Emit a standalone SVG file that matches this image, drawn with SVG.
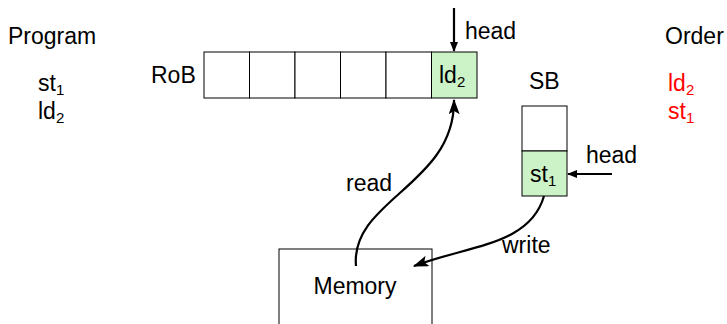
<svg xmlns="http://www.w3.org/2000/svg" width="727" height="324" viewBox="0 0 727 324">
<style>
text{font-family:"Liberation Sans",Arial,sans-serif;font-size:23px;fill:#000}
.sub{font-size:15px}
.red{fill:#ff0000}
.cell{fill:#fff;stroke:#000;stroke-width:1}
.hl{fill:#ccf2c8;stroke:#000;stroke-width:1}
.wire{fill:none;stroke:#000;stroke-width:2.2}
</style>
<defs>
<marker id="ah" viewBox="0 0 10 10" refX="9" refY="5" markerWidth="10" markerHeight="10" markerUnits="userSpaceOnUse" orient="auto">
<path d="M0,1 L10,5 L0,9 Z" fill="#000"/>
</marker>
<marker id="ahb" viewBox="0 0 14 10" refX="13" refY="5" markerWidth="16" markerHeight="11" markerUnits="userSpaceOnUse" orient="auto">
<path d="M0,0 L14,5 L0,10 L3,5 Z" fill="#000"/>
</marker>
</defs>
<g id="program">
<text x="8" y="44">Program</text>
<text x="38" y="91">st<tspan class="sub" dy="4">1</tspan></text>
<text x="38" y="119">ld<tspan class="sub" dy="4">2</tspan></text>
</g>
<g id="order">
<text x="665" y="44">Order</text>
<text x="668" y="91" class="red">ld<tspan class="sub red" dy="4">2</tspan></text>
<text x="668" y="119" class="red">st<tspan class="sub red" dy="4">1</tspan></text>
</g>
<g id="rob">
<text x="151" y="83">RoB</text>
<rect class="cell" x="204" y="52" width="45.5" height="46"/>
<rect class="cell" x="249.5" y="52" width="45.5" height="46"/>
<rect class="cell" x="295" y="52" width="45.5" height="46"/>
<rect class="cell" x="340.5" y="52" width="45.5" height="46"/>
<rect class="cell" x="386" y="52" width="45.5" height="46"/>
<rect class="hl" x="431.5" y="52" width="45.5" height="46"/>
<text x="439" y="83">ld<tspan class="sub" dy="4">2</tspan></text>
</g>
<g id="sb">
<text x="529" y="89">SB</text>
<rect class="cell" x="522" y="106" width="45" height="45"/>
<rect class="hl" x="522" y="151" width="45" height="45"/>
<text x="530" y="182">st<tspan class="sub" dy="4">1</tspan></text>
</g>
<g id="memory">
<rect class="cell" x="279" y="249" width="153" height="90"/>
<text x="355" y="294" text-anchor="middle">Memory</text>
</g>
<g id="connectors">
<line class="wire" x1="454" y1="8" x2="454" y2="51" stroke-width="2" marker-end="url(#ah)"/>
<text x="465" y="39">head</text>
<line class="wire" x1="612" y1="174" x2="568" y2="174" stroke-width="2" marker-end="url(#ah)"/>
<text x="586" y="163">head</text>
<path class="wire" d="M356,266 C350,200 455,185 454,100" marker-end="url(#ahb)"/>
<text x="346" y="191">read</text>
<path class="wire" d="M544,196 C530,245 470,245 414,266" marker-end="url(#ahb)"/>
<text x="502" y="253">write</text>
</g>
</svg>
